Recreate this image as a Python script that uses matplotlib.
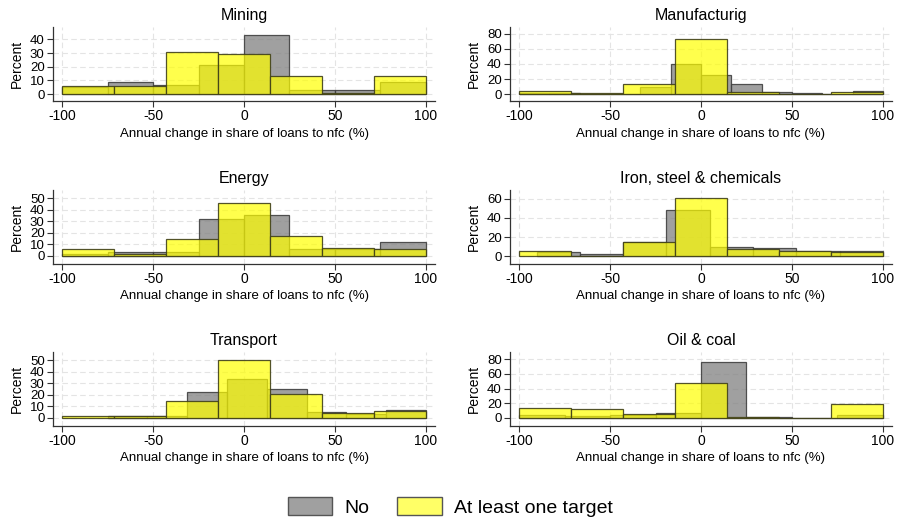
import matplotlib
matplotlib.use("Agg")
import matplotlib.pyplot as plt
import numpy as np
from matplotlib.patches import Patch

plt.rcParams["font.family"] = ["Liberation Sans", "DejaVu Sans"]

sectors = ["Mining", "Manufacturig", "Energy", "Iron, steel & chemicals", "Transport", "Oil & coal"]

# "No" histograms: bin range (lo, hi, n bins) and percent per bin
no_range = [(-100, 100, 8), (-100, 100, 12), (-100, 100, 8), (-90.4, 100, 8), (-75, 100, 8), (-100, 100, 8)]
no_mining = [5, 9, 7, 21, 43, 3, 3, 9]
no_manuf = [1, 1, 0.5, 0.5, 10, 40, 26, 13, 3, 2, 0, 4]
no_energy = [2, 3, 3, 32, 35, 6, 6, 12]
no_iron = [4, 2, 15, 48, 10, 9, 6, 6]
no_transport = [2, 2, 22, 34, 25, 5, 3, 7]
no_oil = [4, 2, 4, 7, 76, 1, 0, 4]

# "At least one target" histograms: 7 bins from -100 to 100
target_range = (-100, 100, 7)
tg_mining = [6, 6, 31, 29, 13, 1, 13]
tg_manuf = [4, 1, 13, 73, 3, 0, 3]
tg_energy = [6, 2, 15, 46, 17, 7, 6]
tg_iron = [6, 0, 15, 61, 8, 6, 4]
tg_transport = [2, 2, 15, 50, 21, 4, 6]
tg_oil = [13, 12, 5, 48, 1, 0, 19]

no_values = [no_mining, no_manuf, no_energy, no_iron, no_transport, no_oil]
tg_values = [tg_mining, tg_manuf, tg_energy, tg_iron, tg_transport, tg_oil]

y_ticks = [[0, 10, 20, 30, 40], [0, 20, 40, 60, 80], [0, 10, 20, 30, 40, 50],
           [0, 20, 40, 60], [0, 10, 20, 30, 40, 50], [0, 20, 40, 60, 80]]
y_lims = [(-5, 49), (-9, 89), (-7, 57), (-8, 69), (-7, 57), (-11, 90)]
x_ticks = [-100, -50, 0, 50, 100]

GRAY_FACE = (0.5, 0.5, 0.5, 0.75)
GRAY_EDGE = (0.25, 0.25, 0.25, 0.9)
YELLOW_FACE = (1.0, 1.0, 0.0, 0.7)
YELLOW_EDGE = (0.25, 0.25, 0.1, 0.9)


def draw_hist(ax, rng, heights, face, edge):
    lo, hi, n = rng
    edges = np.linspace(lo, hi, n + 1)
    ax.bar(edges[:-1], heights, width=np.diff(edges), align="edge",
           facecolor=face, edgecolor=edge, linewidth=0.9)


fig = plt.figure(figsize=(9, 5.2), dpi=100)

W, H = 900, 520
col_left = [53, 510]
col_width = 382
row_top = [27, 190, 352]
row_height = 74

for i, name in enumerate(sectors):
    r, c = divmod(i, 2)
    ax = fig.add_axes([col_left[c] / W, 1 - (row_top[r] + row_height) / H,
                       col_width / W, row_height / H])
    ax.set_axisbelow(True)
    for t in y_ticks[i]:
        ax.axhline(t, color="#e4e4e4", linewidth=0.8, dashes=(5, 3), zorder=0)
    for t in x_ticks:
        ax.axvline(t, color="#e4e4e4", linewidth=0.8, dashes=(5, 3), zorder=0)

    draw_hist(ax, no_range[i], no_values[i], GRAY_FACE, GRAY_EDGE)
    draw_hist(ax, target_range, tg_values[i], YELLOW_FACE, YELLOW_EDGE)

    ax.set_xlim(-105, 105)
    ax.set_ylim(*y_lims[i])
    ax.set_xticks(x_ticks)
    ax.set_yticks(y_ticks[i])
    ax.set_xticklabels([str(t) for t in x_ticks])
    ax.tick_params(axis="x", labelsize=10, length=4, width=0.8, color="#333333", pad=2)
    ax.tick_params(axis="y", labelsize=9.5, length=4, width=0.8, color="#333333", pad=2)
    for side in ["top", "right"]:
        ax.spines[side].set_visible(False)
    for side in ["left", "bottom"]:
        ax.spines[side].set_color("#333333")
        ax.spines[side].set_linewidth(0.9)
    ax.set_title(name, fontsize=11.5, pad=5)
    ax.set_ylabel("Percent", fontsize=10, labelpad=4)
    ax.set_xlabel("Annual change in share of loans to nfc (%)", fontsize=9.5, labelpad=3)

handles = [Patch(facecolor="#a0a0a0", edgecolor="#555555", label="No"),
           Patch(facecolor="#ffff66", edgecolor="#555555", label="At least one target")]
fig.legend(handles=handles, loc="center", bbox_to_anchor=(0.5, 0.025), ncol=2,
           frameon=False, fontsize=14, handlelength=2.3, handleheight=1.05,
           handletextpad=0.6, columnspacing=1.45)

fig.savefig("out.png", dpi=100)
